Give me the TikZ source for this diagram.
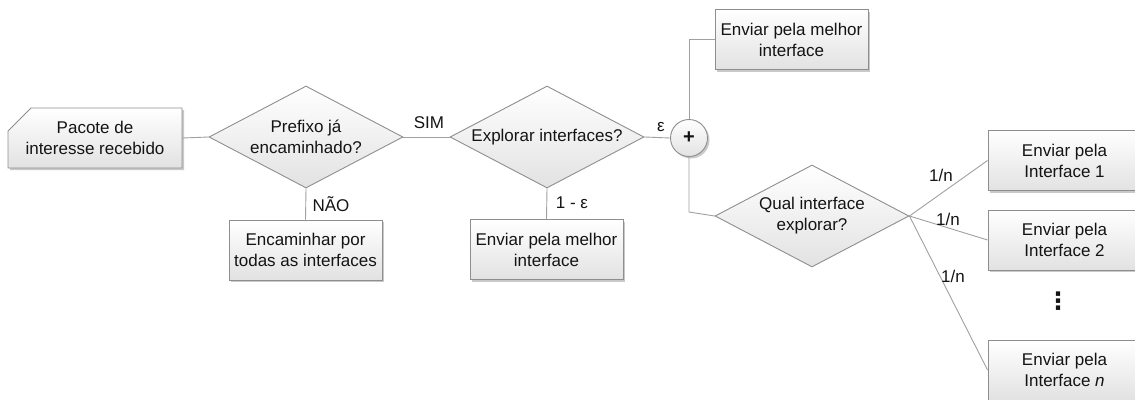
\documentclass[tikz,border=0pt]{standalone}
\usepackage{fontspec}
\setmainfont{Liberation Sans}
\newfontfamily\dotsfont{DejaVu Sans}
\usetikzlibrary{shapes.geometric,shapes.misc,shadows}
\definecolor{edgegray}{HTML}{A0A0A0}
\definecolor{bordergray}{HTML}{8E8E8E}
\definecolor{fillbottom}{HTML}{E2E2E2}
\tikzset{
  every node/.style={font=\fontsize{17}{21}\selectfont, text=black!92},
  boxshade/.style={top color=white, bottom color=fillbottom, draw=bordergray, line width=0.9pt,
    drop shadow={shadow xshift=2pt, shadow yshift=-2pt, opacity=0.3, fill=black!70}},
  actbox/.style={boxshade, rectangle, minimum width=153pt, minimum height=60pt, inner sep=0pt, align=center},
  cardbox/.style={boxshade, chamfered rectangle, chamfered rectangle corners=north west,
    chamfered rectangle xsep=12pt, chamfered rectangle ysep=11pt,
    minimum width=174pt, minimum height=60pt, inner sep=0pt, align=center},
  decision/.style={top color=white, bottom color=fillbottom, draw=bordergray, line width=0.9pt,
    diamond, aspect=1.9, minimum width=194pt, minimum height=102pt, inner sep=0pt, align=center},
  joinpt/.style={boxshade, circle, minimum size=37pt, inner sep=0pt, font=\fontsize{20}{21}\selectfont\bfseries},
  link/.style={draw=edgegray, line width=0.9pt},
  lbl/.style={inner sep=0pt}
}
\begin{document}
\begin{tikzpicture}[x=1pt, y=-1pt]
\useasboundingbox (0,0) rectangle (1135,399);
\clip (0,0) rectangle (1135,399);

% process start and first decision
\node[cardbox] (pacote) at (95,138) {Pacote de\\interesse recebido};
\node[decision] (d1) at (306,137) {Prefixo já\\encaminhado?};
\node[actbox] (enc) at (305.5,250) {Encaminhar por\\todas as interfaces};

% exploration decision
\node[decision] (d2) at (547,137) {Explorar interfaces?};
\node[actbox] (best2) at (546.5,249.5) {Enviar pela melhor\\interface};
\node[joinpt] (plus) at (689,138) {+};
\node[actbox] (best1) at (791.5,39.5) {Enviar pela melhor\\interface};

% interface choice
\node[decision] (d3) at (812,216) {Qual interface\\explorar?};
\node[actbox] (if1) at (1064.5,160.5) {Enviar pela\\Interface 1};
\node[actbox] (if2) at (1064.5,240) {Enviar pela\\Interface 2};
\node[actbox] (ifn) at (1064.5,370) {Enviar pela\\Interface \textit{n}};
\node[lbl] (vdots) at (1058,301) {\fontsize{24}{24}\dotsfont\bfseries ⋮};

\coordinate (bend) at (689,212);

% connectors
\draw[link] (pacote.east) -- (d1.west);
\draw[link] (d1.east) -- (d2.west);
\draw[link] (d1.south) -- (enc.north);
\draw[link] (d2.east) -- (plus.west);
\draw[link] (d2.south) -- (best2.north);
\draw[link] (plus.north) |- (best1.west);
\draw[link] (plus.south) -- (bend) -- (d3.west);
\draw[link] (d3.east) -- (if1.west);
\draw[link] (d3.east) -- (if2.west);
\draw[link] (d3.east) -- (ifn.west);

% branch labels
\node[lbl] (lsim) at (429,123) {SIM};
\node[lbl] (lnao) at (331,204) {NÃO};
\node[lbl] (leps) at (661,127) {ε};
\node[lbl] (lonemeps) at (572,203) {1 - ε};
\node[lbl] (ln1) at (941,175) {1/n};
\node[lbl] (ln2) at (948,219) {1/n};
\node[lbl] (ln3) at (953,276) {1/n};
\end{tikzpicture}
\end{document}
